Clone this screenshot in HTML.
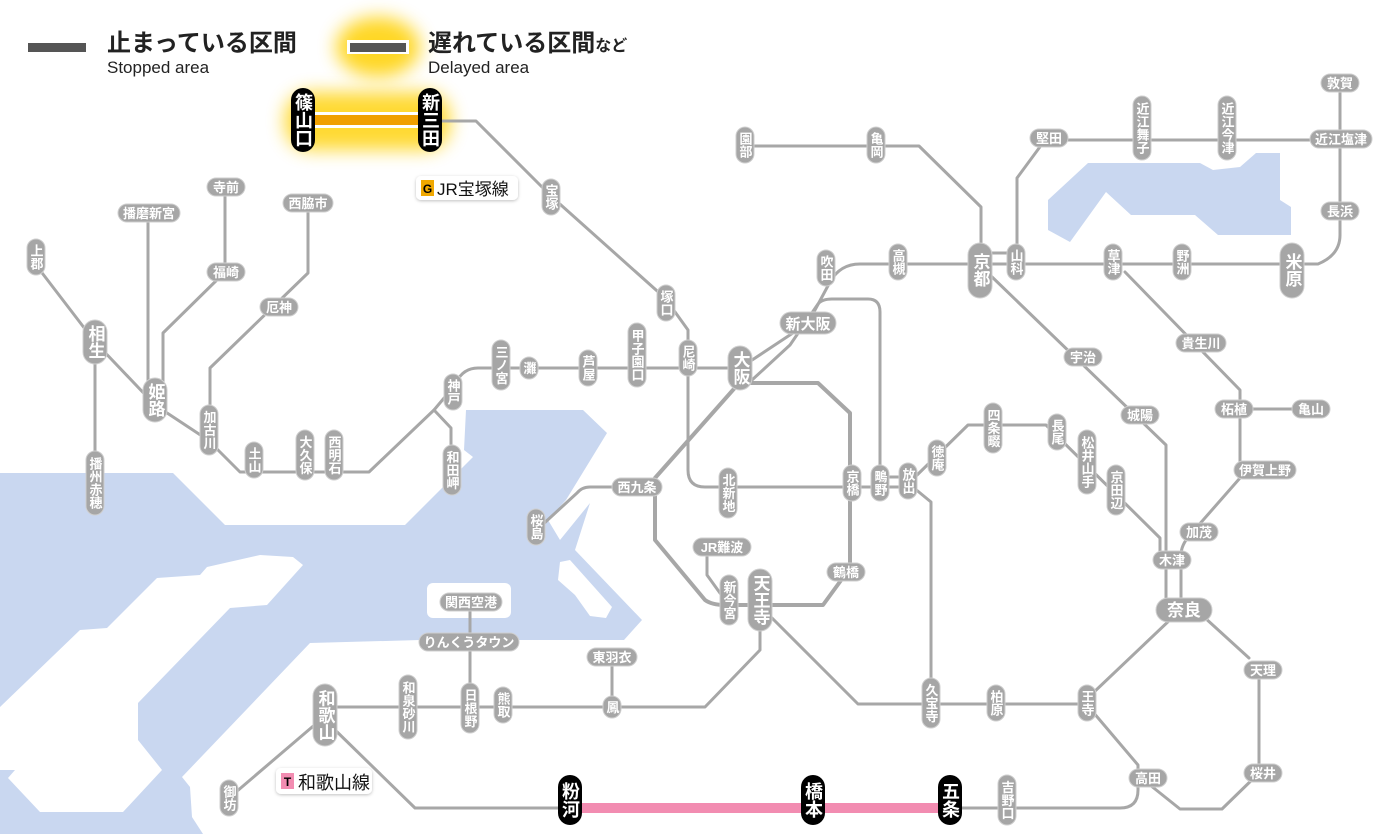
<!DOCTYPE html>
<html><head><meta charset="utf-8"><style>
html,body{margin:0;padding:0;background:#fff}
svg{display:block}
text{font-family:"Liberation Sans","Noto Sans CJK JP",sans-serif}
.ln{fill:none;stroke:#a7a7a7;stroke-width:3;stroke-linejoin:round;stroke-linecap:round}
.p{fill:#a6a6a6;stroke:#cfcfcf;stroke-width:1}
.b{fill:#000}
.t{fill:#fff;font-size:13px;font-weight:bold;text-anchor:middle}
.tv{fill:#fff;font-size:13px;font-weight:bold;text-anchor:middle;writing-mode:vertical-rl}
.tvb{fill:#fff;font-size:17px;font-weight:bold;text-anchor:middle;writing-mode:vertical-rl}
.tk{fill:#fff;font-size:18px;font-weight:bold;text-anchor:middle;writing-mode:vertical-rl}
</style></head><body>
<svg width="1400" height="834" viewBox="0 0 1400 834" xmlns="http://www.w3.org/2000/svg">
<defs>
<filter id="gl" x="-50%" y="-50%" width="200%" height="200%"><feGaussianBlur stdDeviation="9"/></filter>
<filter id="sh" x="-20%" y="-20%" width="140%" height="160%"><feDropShadow dx="0" dy="1" stdDeviation="1.5" flood-color="#000" flood-opacity="0.25"/></filter>
</defs>
<!-- sea -->
<polygon fill="#c9d7f0" points="0,473 173,473 225,525 405,525 473,457 464,450 466,410 583,410 607,433 566,500 548,520 560,540 590,503 575,550 642,620 624,640 420,640 310,643 182,777 190,787 192,817 203,834 0,834"/>
<polygon fill="#fff" points="0,707 80,630 107,628 157,578 200,575 207,567 260,555 293,557 303,565 267,605 230,608 138,703 138,740 162,770 123,812 40,812 8,778 15,770 0,770"/>
<rect x="427" y="583" width="84" height="35" rx="6" fill="#fff"/>
<polygon fill="#fff" points="560,562 570,560 612,607 606,618 590,616 575,595 558,580"/>
<!-- lake -->
<polygon fill="#c9d7f0" points="1088,163 1200,163 1213,170 1240,167 1256,153 1280,153 1280,200 1291,207 1291,235 1218,235 1195,215 1131,215 1106,192 1070,242 1048,230 1048,200"/>

<!-- legend -->
<rect x="28" y="43" width="58" height="9" fill="#555"/>
<text x="107" y="51" font-size="24" font-weight="bold" fill="#222">止まっている区間</text>
<text x="107" y="73" font-size="17" fill="#222">Stopped area</text>
<ellipse cx="378" cy="47" rx="42" ry="30" fill="#ffd000" filter="url(#gl)" opacity="0.85"/>
<rect x="347" y="40" width="62" height="14" fill="#fff"/>
<rect x="350" y="43" width="56" height="9" fill="#555"/>
<text x="428" y="51" font-size="24" font-weight="bold" fill="#222">遅れている区間<tspan font-size="16">など</tspan></text>
<text x="428" y="73" font-size="17" fill="#222">Delayed area</text>

<!-- glow for delayed segment -->
<rect x="285" y="92" width="165" height="58" rx="25" fill="#ffd000" filter="url(#gl)" opacity="0.8"/>
<rect x="303" y="112" width="127" height="16" fill="#fff"/>
<rect x="303" y="115" width="127" height="10" fill="#f0a000"/>

<!-- lines -->
<path class="ln" d="M440,121 H476 L552,197 L665,298 L688,330 V470 Q688,487 705,487 H914"/>
<path class="ln" d="M36,265 L95,342 L155,405 L208,440 L240,472 H369 L434,410 L455,385 Q462,368 478,368 H740"/>
<path class="ln" d="M434,410 L451,428 V477"/>
<path class="ln" d="M95,342 V483"/>
<path class="ln" d="M148,213 V400"/>
<path class="ln" d="M225,187 V272 L163,333 V390"/>
<path class="ln" d="M308,203 V273 L210,368 V430"/>
<path class="ln" d="M740,368 L808,323 L830,282 Q840,264 860,264 H1318 Q1340,255 1340,235 V83"/>
<path class="ln" d="M752,380 L790,345 L818,304 Q822,299 832,299 H868 Q880,299 880,312 V487"/>
<path class="ln" d="M981,250 V207 L919,146 H745"/>
<path class="ln" d="M1017,250 V178 L1045,140 H1341"/>
<path class="ln" d="M981,253 H1017"/>
<path class="ln" d="M990,275 L1166,445 V605"/>
<path class="ln" d="M1125,272 L1240,390 V478 L1190,535 Q1181,545 1181,555 V605"/>
<path class="ln" d="M1240,409 H1311"/>
<path class="ln" style="stroke-width:4" d="M740,382 L655,478 V540 L705,600 Q712,605 725,605 H823 L850,568 V413 L818,383 H745"/>
<path class="ln" d="M637,487 H590 Q582,487 577,493 L540,527"/>
<path class="ln" d="M722,547 H707 V575 L725,600"/>
<path class="ln" d="M760,615 V650 L705,707 H325"/>
<path class="ln" d="M470,602 V707"/>
<path class="ln" d="M612,657 V707"/>
<path class="ln" d="M318,722 L229,798"/>
<path class="ln" d="M330,725 L415,808 H570"/>
<path class="ln" d="M1093,712 L1138,765 V790 Q1138,808 1120,808 H950"/>
<path class="ln" d="M1150,785 L1180,809 H1222 L1259,773 V670"/>
<path class="ln" d="M1249,658 L1204,617"/>
<path class="ln" d="M1093,693 L1173,617"/>
<path class="ln" d="M769,615 L858,704 H1088"/>
<path class="ln" d="M914,488 L931,502 V705"/>
<path class="ln" d="M914,478 L968,425 H1046 L1160,538 V560"/>
<path class="ln" d="M880,477 H908"/>
<path class="ln" d="M729,605 H760"/>
<!-- pink -->
<rect x="570" y="803" width="380" height="10" fill="#f28cb1"/>

<!-- line labels -->
<g filter="url(#sh)"><rect x="416" y="176" width="102" height="24" rx="5" fill="#fff"/></g>
<rect x="421" y="180" width="13" height="16" fill="#f0a800"/>
<text x="427.5" y="193" font-size="12" font-weight="bold" text-anchor="middle" fill="#000">G</text>
<text x="437" y="195" font-size="17" fill="#111">JR宝塚線</text>
<g filter="url(#sh)"><rect x="276" y="768" width="96" height="26" rx="5" fill="#fff"/></g>
<rect x="281" y="773" width="13" height="16" fill="#f28cb1"/>
<text x="287.5" y="786" font-size="12" font-weight="bold" text-anchor="middle" fill="#000">T</text>
<text x="298" y="789" font-size="18" fill="#111">和歌山線</text>

<!-- black stations -->
<rect class="b" x="291" y="88" width="24" height="64" rx="12"/><text class="tk" x="303" y="120">篠山口</text>
<rect class="b" x="418" y="88" width="24" height="64" rx="12"/><text class="tk" x="430" y="120">新三田</text>
<rect class="b" x="558" y="775" width="24" height="50" rx="12"/><text class="tk" x="570" y="800">粉河</text>
<rect class="b" x="801" y="775" width="24" height="50" rx="12"/><text class="tk" x="813" y="800">橋本</text>
<rect class="b" x="938" y="775" width="24" height="50" rx="12"/><text class="tk" x="950" y="800">五条</text>

<!-- vertical normal stations -->
<g>
<rect class="p" x="542" y="179" width="18" height="36" rx="9"/><text class="tv" x="551" y="197">宝塚</text>
<rect class="p" x="657" y="285" width="18" height="36" rx="9"/><text class="tv" x="666" y="303">塚口</text>
<rect class="p" x="628" y="323" width="18" height="64" rx="9"/><text class="tv" x="637" y="355">甲子園口</text>
<rect class="p" x="579" y="350" width="18" height="36" rx="9"/><text class="tv" x="588" y="368">芦屋</text>
<rect class="p" x="520" y="357" width="18" height="22" rx="9"/><text class="tv" x="529" y="368">灘</text>
<rect class="p" x="492" y="340" width="18" height="50" rx="9"/><text class="tv" x="501" y="365">三ノ宮</text>
<rect class="p" x="444" y="374" width="18" height="36" rx="9"/><text class="tv" x="453" y="392">神戸</text>
<rect class="p" x="443" y="445" width="18" height="50" rx="9"/><text class="tv" x="452" y="470">和田岬</text>
<rect class="p" x="325" y="430" width="18" height="50" rx="9"/><text class="tv" x="334" y="455">西明石</text>
<rect class="p" x="296" y="430" width="18" height="50" rx="9"/><text class="tv" x="305" y="455">大久保</text>
<rect class="p" x="245" y="442" width="18" height="36" rx="9"/><text class="tv" x="254" y="460">土山</text>
<rect class="p" x="200" y="405" width="18" height="50" rx="9"/><text class="tv" x="209" y="430">加古川</text>
<rect class="p" x="27" y="239" width="18" height="36" rx="9"/><text class="tv" x="36" y="257">上郡</text>
<rect class="p" x="86" y="451" width="18" height="64" rx="9"/><text class="tv" x="95" y="483">播州赤穂</text>
<rect class="p" x="679" y="340" width="18" height="36" rx="9"/><text class="tv" x="688" y="358">尼崎</text>
<rect class="p" x="719" y="468" width="18" height="50" rx="9"/><text class="tv" x="728" y="493">北新地</text>
<rect class="p" x="843" y="465" width="18" height="36" rx="9"/><text class="tv" x="852" y="483">京橋</text>
<rect class="p" x="871" y="465" width="18" height="36" rx="9"/><text class="tv" x="880" y="483">鴫野</text>
<rect class="p" x="899" y="463" width="18" height="36" rx="9"/><text class="tv" x="908" y="481">放出</text>
<rect class="p" x="928" y="440" width="18" height="36" rx="9"/><text class="tv" x="937" y="458">徳庵</text>
<rect class="p" x="984" y="403" width="18" height="50" rx="9"/><text class="tv" x="993" y="428">四条畷</text>
<rect class="p" x="1048" y="414" width="18" height="36" rx="9"/><text class="tv" x="1057" y="432">長尾</text>
<rect class="p" x="1078" y="430" width="18" height="64" rx="9"/><text class="tv" x="1087" y="462">松井山手</text>
<rect class="p" x="1107" y="465" width="18" height="50" rx="9"/><text class="tv" x="1116" y="490">京田辺</text>
<rect class="p" x="720" y="575" width="18" height="50" rx="9"/><text class="tv" x="729" y="600">新今宮</text>
<rect class="p" x="527" y="509" width="18" height="36" rx="9"/><text class="tv" x="536" y="527">桜島</text>
<rect class="p" x="461" y="683" width="18" height="50" rx="9"/><text class="tv" x="470" y="708">日根野</text>
<rect class="p" x="494" y="687" width="18" height="36" rx="9"/><text class="tv" x="503" y="705">熊取</text>
<rect class="p" x="399" y="675" width="18" height="64" rx="9"/><text class="tv" x="408" y="707">和泉砂川</text>
<rect class="p" x="220" y="780" width="18" height="36" rx="9"/><text class="tv" x="229" y="798">御坊</text>
<rect class="p" x="603" y="696" width="18" height="22" rx="9"/><text class="tv" x="612" y="707">鳳</text>
<rect class="p" x="922" y="678" width="18" height="50" rx="9"/><text class="tv" x="931" y="703">久宝寺</text>
<rect class="p" x="987" y="685" width="18" height="36" rx="9"/><text class="tv" x="996" y="703">柏原</text>
<rect class="p" x="1078" y="685" width="18" height="36" rx="9"/><text class="tv" x="1087" y="703">王寺</text>
<rect class="p" x="998" y="775" width="18" height="50" rx="9"/><text class="tv" x="1007" y="800">吉野口</text>
<rect class="p" x="817" y="250" width="18" height="36" rx="9"/><text class="tv" x="826" y="268">吹田</text>
<rect class="p" x="889" y="244" width="18" height="36" rx="9"/><text class="tv" x="898" y="262">高槻</text>
<rect class="p" x="1007" y="244" width="18" height="36" rx="9"/><text class="tv" x="1016" y="262">山科</text>
<rect class="p" x="1104" y="244" width="18" height="36" rx="9"/><text class="tv" x="1113" y="262">草津</text>
<rect class="p" x="1173" y="244" width="18" height="36" rx="9"/><text class="tv" x="1182" y="262">野洲</text>
<rect class="p" x="1133" y="96" width="18" height="64" rx="9"/><text class="tv" x="1142" y="128">近江舞子</text>
<rect class="p" x="1218" y="96" width="18" height="64" rx="9"/><text class="tv" x="1227" y="128">近江今津</text>
<rect class="p" x="736" y="127" width="18" height="36" rx="9"/><text class="tv" x="745" y="145">園部</text>
<rect class="p" x="867" y="127" width="18" height="36" rx="9"/><text class="tv" x="876" y="145">亀岡</text>
</g>
<!-- vertical big -->
<g>
<rect class="p" x="143" y="378" width="24" height="44" rx="12"/><text class="tvb" x="155" y="400">姫路</text>
<rect class="p" x="83" y="320" width="24" height="44" rx="12"/><text class="tvb" x="95" y="342">相生</text>
<rect class="p" x="728" y="346" width="24" height="44" rx="12"/><text class="tvb" x="740" y="368">大阪</text>
<rect class="p" x="748" y="569" width="24" height="62" rx="12"/><text class="tvb" x="760" y="600">天王寺</text>
<rect class="p" x="313" y="684" width="24" height="62" rx="12"/><text class="tvb" x="325" y="715">和歌山</text>
<rect class="p" x="968" y="243" width="24" height="55" rx="12"/><text class="tvb" x="980" y="270">京都</text>
<rect class="p" x="1280" y="243" width="24" height="55" rx="12"/><text class="tvb" x="1292" y="270">米原</text>
</g>
<!-- horizontal -->
<g>
<rect class="p" x="207" y="178" width="38" height="18" rx="9"/><text class="t" x="226" y="192">寺前</text>
<rect class="p" x="118" y="204" width="62" height="18" rx="9"/><text class="t" x="149" y="218">播磨新宮</text>
<rect class="p" x="283" y="194" width="50" height="18" rx="9"/><text class="t" x="308" y="208">西脇市</text>
<rect class="p" x="207" y="263" width="38" height="18" rx="9"/><text class="t" x="226" y="277">福崎</text>
<rect class="p" x="260" y="298" width="38" height="18" rx="9"/><text class="t" x="279" y="312">厄神</text>
<rect class="p" x="612" y="478" width="50" height="18" rx="9"/><text class="t" x="637" y="492">西九条</text>
<rect class="p" x="693" y="538" width="58" height="18" rx="9"/><text class="t" x="722" y="552">JR難波</text>
<rect class="p" x="827" y="563" width="38" height="18" rx="9"/><text class="t" x="846" y="577">鶴橋</text>
<rect class="p" x="440" y="593" width="62" height="18" rx="9"/><text class="t" x="471" y="607">関西空港</text>
<rect class="p" x="419" y="633" width="100" height="18" rx="9"/><text class="t" x="469" y="647">りんくうタウン</text>
<rect class="p" x="587" y="648" width="50" height="18" rx="9"/><text class="t" x="612" y="662">東羽衣</text>
<rect class="p" x="1064" y="348" width="38" height="18" rx="9"/><text class="t" x="1083" y="362">宇治</text>
<rect class="p" x="1121" y="406" width="38" height="18" rx="9"/><text class="t" x="1140" y="420">城陽</text>
<rect class="p" x="1176" y="334" width="50" height="18" rx="9"/><text class="t" x="1201" y="348">貴生川</text>
<rect class="p" x="1215" y="400" width="38" height="18" rx="9"/><text class="t" x="1234" y="414">柘植</text>
<rect class="p" x="1292" y="400" width="38" height="18" rx="9"/><text class="t" x="1311" y="414">亀山</text>
<rect class="p" x="1234" y="461" width="62" height="18" rx="9"/><text class="t" x="1265" y="475">伊賀上野</text>
<rect class="p" x="1180" y="523" width="38" height="18" rx="9"/><text class="t" x="1199" y="537">加茂</text>
<rect class="p" x="1153" y="551" width="38" height="18" rx="9"/><text class="t" x="1172" y="565">木津</text>
<rect class="p" x="1129" y="769" width="38" height="18" rx="9"/><text class="t" x="1148" y="783">高田</text>
<rect class="p" x="1244" y="661" width="38" height="18" rx="9"/><text class="t" x="1263" y="675">天理</text>
<rect class="p" x="1244" y="764" width="38" height="18" rx="9"/><text class="t" x="1263" y="778">桜井</text>
<rect class="p" x="1030" y="129" width="38" height="18" rx="9"/><text class="t" x="1049" y="143">堅田</text>
<rect class="p" x="1310" y="130" width="62" height="18" rx="9"/><text class="t" x="1341" y="144">近江塩津</text>
<rect class="p" x="1321" y="74" width="38" height="18" rx="9"/><text class="t" x="1340" y="88">敦賀</text>
<rect class="p" x="1321" y="202" width="38" height="18" rx="9"/><text class="t" x="1340" y="216">長浜</text>
<rect class="p" x="780" y="312" width="56" height="22" rx="11"/><text x="808" y="329" fill="#fff" font-size="15" font-weight="bold" text-anchor="middle">新大阪</text>
<rect class="p" x="1156" y="598" width="56" height="24" rx="12"/><text x="1184" y="616" fill="#fff" font-size="17" font-weight="bold" text-anchor="middle">奈良</text>
</g>
</svg>
</body></html>
